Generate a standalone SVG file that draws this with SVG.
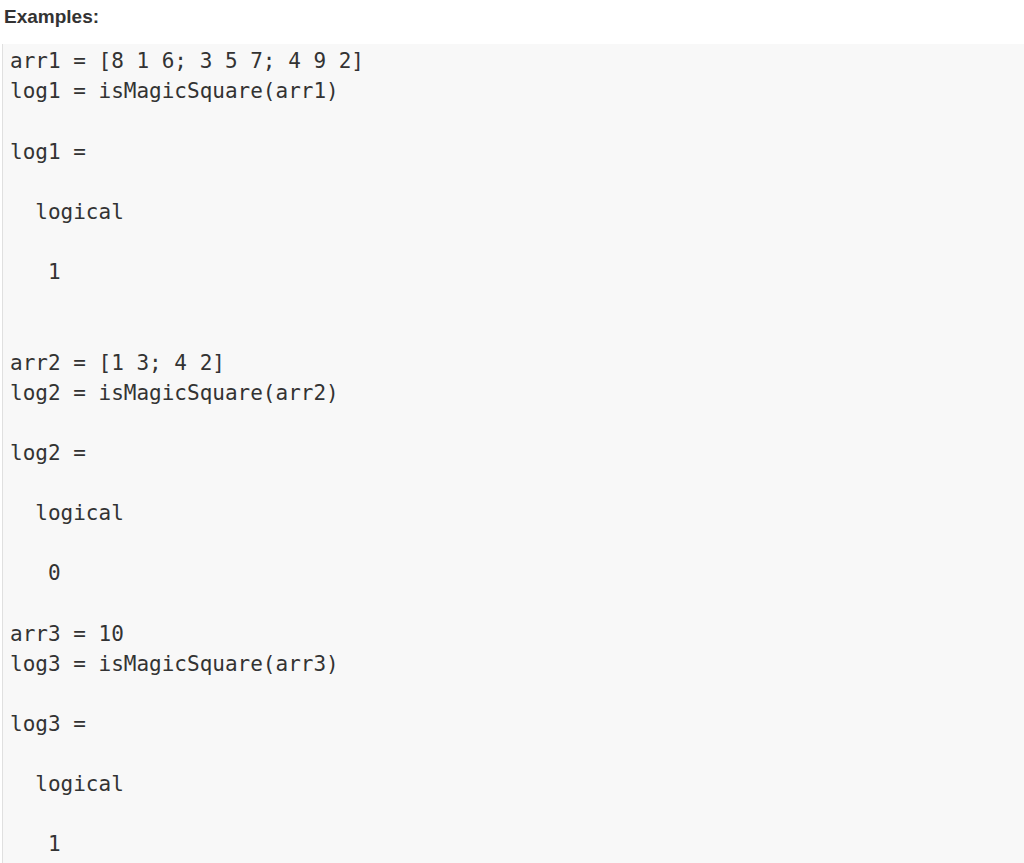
<svg xmlns="http://www.w3.org/2000/svg" width="1024" height="863" viewBox="0 0 1024 863">
<style>
.c{font-family:"DejaVu Sans Mono",monospace;font-size:21px;fill:#333;white-space:pre}
.h{font-family:"Liberation Sans",Arial,sans-serif;font-size:19px;font-weight:bold;fill:#333}
</style>
<rect width="1024" height="863" fill="#fff"/>
<text class="h" x="4" y="23">Examples:</text>
<rect x="2" y="44" width="1022" height="819" fill="#f8f8f8"/>
<rect x="2" y="44" width="1" height="819" fill="#e0e0e0"/>
<g id="code">
<text class="c" x="10" y="68">arr1 = [8 1 6; 3 5 7; 4 9 2]</text>
<text class="c" x="10" y="98">log1 = isMagicSquare(arr1)</text>
<text class="c" x="10" y="159">log1 =</text>
<text class="c" x="10" y="219">  logical</text>
<text class="c" x="10" y="279">   1</text>
<text class="c" x="10" y="370">arr2 = [1 3; 4 2]</text>
<text class="c" x="10" y="400">log2 = isMagicSquare(arr2)</text>
<text class="c" x="10" y="460">log2 =</text>
<text class="c" x="10" y="520">  logical</text>
<text class="c" x="10" y="580">   0</text>
<text class="c" x="10" y="641">arr3 = 10</text>
<text class="c" x="10" y="671">log3 = isMagicSquare(arr3)</text>
<text class="c" x="10" y="731">log3 =</text>
<text class="c" x="10" y="791">  logical</text>
<text class="c" x="10" y="851">   1</text>
</g>
</svg>
